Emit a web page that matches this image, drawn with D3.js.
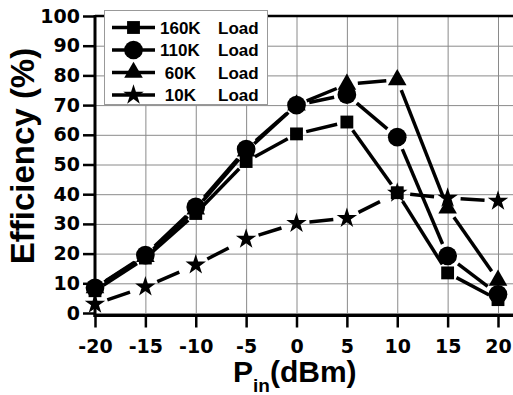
<!DOCTYPE html>
<html>
<head>
<meta charset="utf-8">
<script src="https://cdn.jsdelivr.net/npm/d3@7"></script>
<style>
  html, body { margin: 0; padding: 0; background: #fff; }
  svg { display: block; }
</style>
</head>
<body>
<div id="root"></div>
<script>
// data
const pin = [-20, -15, -10, -5, 0, 5, 10, 15, 20];
const eff160 = [7.5, 18.5, 33.5, 51, 60.3, 64.3, 40.5, 13.5, 4.5];
const eff110 = [8.5, 19.5, 35.7, 55.2, 70, 73.5, 59.2, 19.2, 6.3];
const eff60 = [8.5, 19, 35, 54.5, 70, 77, 78.5, 35.3, 11];
const eff10 = [3, 8.8, 16.2, 24.9, 30.2, 31.9, 40.4, 38.7, 37.7];
const seriesNames = ["160K", "110K", "60K", "10K"];
const xTicks = ["-20", "-15", "-10", "-5", "0", "5", "10", "15", "20"];
const yTicks = ["0", "10", "20", "30", "40", "50", "60", "70", "80", "90", "100"];

const w = 513, h = 395;
const margin = { top: 16, left: 95 };

const xScale = d3.scaleLinear().domain([-20, 20]).range([95, 498]);
const yScale = d3.scaleLinear().domain([0, 100]).range([313, 16]);
const axisY = 315.5;

const symbols = [d3.symbolSquare, d3.symbolCircle, d3.symbolTriangle, d3.symbolStar];
const symSizes = [165, 275, 150, 130];
const gaps = [10, 13, 11, 13];
const dashes = [null, null, null, "24,7"];
const values = [eff160, eff110, eff60, eff10];

const svg = d3.select("#root").append("svg")
    .attr("width", w)
    .attr("height", h);

// grid
svg.append("g")
    .attr("transform", "translate(" + margin.left + ",0)")
    .call(d3.axisLeft(yScale).tickValues(yTicks.map(Number).slice(0, 10)).tickSize(-(w - margin.left)).tickFormat(""))
    .call(g => g.select(".domain").remove())
    .call(g => g.selectAll("line").attr("stroke", "#8a8a8a").attr("stroke-width", 1));
svg.append("g")
    .attr("transform", "translate(0," + axisY + ")")
    .call(d3.axisBottom(xScale).tickValues(pin.slice(1)).tickSize(-(axisY - margin.top)).tickFormat(""))
    .call(g => g.select(".domain").remove())
    .call(g => g.selectAll("line").attr("stroke", "#8a8a8a").attr("stroke-width", 1));

// frame lines
svg.append("line").attr("x1", margin.left).attr("x2", w).attr("y1", 16).attr("y2", 16)
    .attr("stroke", "#000").attr("stroke-width", 2.5);
svg.append("line").attr("x1", margin.left - 1.5).attr("x2", w).attr("y1", axisY).attr("y2", axisY)
    .attr("stroke", "#000").attr("stroke-width", 3);
svg.append("line").attr("x1", margin.left).attr("x2", margin.left).attr("y1", 15).attr("y2", axisY + 1.5)
    .attr("stroke", "#000").attr("stroke-width", 3);

// y axis ticks
svg.append("g")
    .attr("transform", "translate(" + margin.left + ",0)")
    .call(d3.axisLeft(yScale).tickValues(yTicks.map(Number)).tickSize(12).tickPadding(3).tickFormat((d, i) => yTicks[i]))
    .call(g => g.select(".domain").remove())
    .call(g => g.selectAll("line").attr("stroke", "#000").attr("stroke-width", 2.5))
    .call(g => g.selectAll("text")
        .style("font-family", "'DejaVu Sans', sans-serif")
        .style("font-weight", "bold")
        .style("font-size", "19px")
        .attr("fill", "#000"));

// x axis ticks
svg.append("g")
    .attr("transform", "translate(0," + axisY + ")")
    .call(d3.axisBottom(xScale).tickValues(pin).tickSize(12).tickPadding(12).tickFormat((d, i) => xTicks[i]))
    .call(g => g.select(".domain").remove())
    .call(g => g.selectAll("line").attr("stroke", "#000").attr("stroke-width", 2.5))
    .call(g => g.selectAll("text")
        .style("font-family", "'DejaVu Sans', sans-serif")
        .style("font-weight", "bold")
        .style("font-size", "19px")
        .attr("fill", "#000"));

// series: lines with a gap around each symbol
values.forEach((vals, s) => {
    const pts = vals.map((v, i) => [xScale(pin[i]), yScale(v)]);
    const segs = [];
    for (let i = 0; i < pts.length - 1; i++) {
        const [x0, y0] = pts[i], [x1, y1] = pts[i + 1];
        const d = Math.hypot(x1 - x0, y1 - y0);
        if (d <= 2 * gaps[s]) continue;
        const ux = (x1 - x0) / d, uy = (y1 - y0) / d;
        segs.push([x0 + ux * gaps[s], y0 + uy * gaps[s], x1 - ux * gaps[s], y1 - uy * gaps[s]]);
    }
    svg.append("g").selectAll("line")
        .data(segs)
        .enter()
        .append("line")
        .attr("x1", d => d[0]).attr("y1", d => d[1])
        .attr("x2", d => d[2]).attr("y2", d => d[3])
        .attr("stroke", "#000")
        .attr("stroke-width", 3.5)
        .attr("stroke-dasharray", dashes[s]);
});
values.forEach((vals, s) => {
    svg.append("g").selectAll("path")
        .data(vals)
        .enter()
        .append("path")
        .attr("d", d3.symbol().type(symbols[s]).size(symSizes[s]))
        .attr("transform", (d, i) => "translate(" + xScale(pin[i]) + "," + yScale(d) + ")")
        .attr("fill", "#000");
});

// legend
const legend = svg.append("g").attr("id", "legend");
legend.append("rect")
    .attr("x", 104.5).attr("y", 10.5)
    .attr("width", 163).attr("height", 94)
    .attr("fill", "#fff")
    .attr("stroke", "#999")
    .attr("stroke-width", 1);
seriesNames.forEach((name, i) => {
    const cy = 27.5 + i * 22.5;
    legend.append("line")
        .attr("x1", 112).attr("x2", 155).attr("y1", cy).attr("y2", cy)
        .attr("stroke", "#000").attr("stroke-width", 3.5);
    legend.append("path")
        .attr("d", d3.symbol().type(symbols[i]).size(symSizes[i]))
        .attr("transform", "translate(133.5," + cy + ")")
        .attr("fill", "#000");
    legend.append("text")
        .attr("x", 160).attr("y", cy + 6)
        .style("white-space", "pre")
        .style("font-family", "'Liberation Sans', Arial, sans-serif")
        .style("font-weight", "bold")
        .style("font-size", "17px")
        .text(name.padStart(4, " "));
    legend.append("text")
        .attr("x", 218).attr("y", cy + 6)
        .style("font-family", "'Liberation Sans', Arial, sans-serif")
        .style("font-weight", "bold")
        .style("font-size", "17px")
        .text("Load");
});

// axis titles
svg.append("text")
    .attr("transform", "translate(34,156) rotate(-90)")
    .attr("text-anchor", "middle")
    .style("font-family", "'Liberation Sans', Arial, sans-serif")
    .style("font-weight", "bold")
    .style("font-size", "33px")
    .text("Efficiency (%)");

const xt = svg.append("text")
    .attr("x", 233).attr("y", 382)
    .style("font-family", "'Liberation Sans', Arial, sans-serif")
    .style("font-weight", "bold")
    .style("font-size", "30px");
xt.append("tspan").text("P");
xt.append("tspan").attr("dy", 10).style("font-size", "19px").text("in");
xt.append("tspan").attr("dy", -10).text("(dBm)");
</script>
</body>
</html>
